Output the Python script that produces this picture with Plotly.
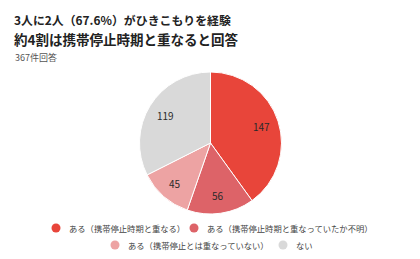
import math
import plotly.graph_objects as go

labels = ["ある（携帯停止時期と重なる）", "ある（携帯停止時期と重なっていたか不明）",
          "ある（携帯停止とは重なっていない）", "ない"]
values = [147, 56, 45, 119]
colors = ["#E8453A", "#DD6368", "#EDA3A3", "#D9D9D9"]

W, H = 420, 259
font = "Noto Sans CJK JP"
# pie geometry (pixels)
cx, cy, R = 210.5, 143, 71
fig = go.Figure()
fig.add_trace(go.Pie(
    labels=labels, values=values, sort=False, direction="clockwise", rotation=0,
    marker=dict(colors=colors, line=dict(color="white", width=1)),
    textinfo="none",
    domain=dict(x=[(cx-R)/W, (cx+R)/W], y=[1-(cy+R)/H, 1-(cy-R)/H]),
    showlegend=False, hoverinfo="label+value",
))

annotations = []
# slice value labels placed at 0.75 radius along each slice's mid angle
total = sum(values)
cum = 0
for v in values:
    mid = (cum + v/2) / total * 2*math.pi
    cum += v
    x = cx + 0.75*R*math.sin(mid)
    y = cy - 0.75*R*math.cos(mid)
    annotations.append(dict(text=str(v), x=x/W, y=1-y/H, xref="paper", yref="paper",
                            xanchor="center", yanchor="middle", showarrow=False,
                            font=dict(size=10, color="#2a2a2a", family=font)))

ann = [
    dict(text="<b>3人に2人（67.6%）がひきこもりを経験</b>", x=12, y=20, size=11.9, color="#222222"),
    dict(text="<b>約4割は携帯停止時期と重なると回答</b>", x=12, y=39, size=13.5, color="#222222"),
    dict(text="367件回答", x=13, y=57, size=9, color="#555555"),
]
for a in ann:
    annotations.append(dict(text=a["text"], x=a["x"]/W, y=1-a["y"]/H, xref="paper", yref="paper",
                            xanchor="left", yanchor="middle", showarrow=False,
                            font=dict(size=a["size"], color=a["color"], family=font)))

# legend (custom, centered rows)
leg_pos = [(56, 228), (194, 228), (115, 245), (283, 245)]
shapes = []
for (lx, ly), lab, col in zip(leg_pos, labels, colors):
    r = 4.5
    shapes.append(dict(type="circle", xref="paper", yref="paper",
                       x0=(lx-r)/W, x1=(lx+r)/W, y0=1-(ly+r)/H, y1=1-(ly-r)/H,
                       fillcolor=col, line=dict(width=0)))
    annotations.append(dict(text=lab, x=(lx+11)/W, y=1-ly/H, xref="paper", yref="paper",
                            xanchor="left", yanchor="middle", showarrow=False,
                            font=dict(size=8.3, color="#444444", family=font)))

fig.update_layout(width=W, height=H, margin=dict(l=0, r=0, t=0, b=0),
                  paper_bgcolor="white", plot_bgcolor="white",
                  annotations=annotations, shapes=shapes)
fig.write_html("out.html")
